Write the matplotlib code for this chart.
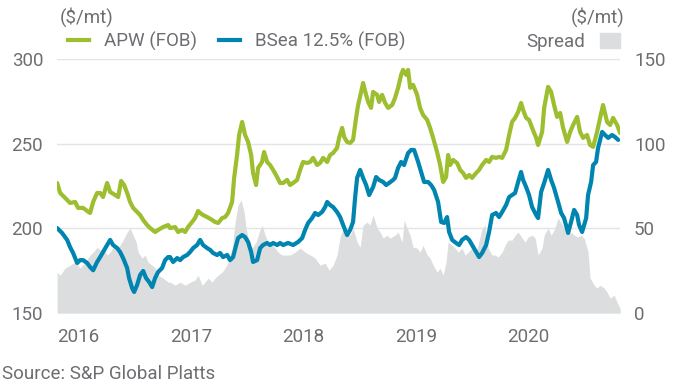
import matplotlib
matplotlib.use("Agg")
import matplotlib.pyplot as plt
from matplotlib.lines import Line2D
from matplotlib.patches import Patch

plt.rcParams["font.family"] = ["Roboto", "DejaVu Sans"]

# APW (FOB), $/mt
apw_t = [2016.000, 2016.027, 2016.071, 2016.115, 2016.160, 2016.186, 2016.231, 2016.266, 2016.293, 2016.320,
         2016.355, 2016.382, 2016.408, 2016.444, 2016.471, 2016.515, 2016.542, 2016.568, 2016.595, 2016.622,
         2016.648, 2016.675, 2016.710, 2016.737, 2016.764, 2016.799, 2016.826, 2016.870, 2016.897, 2016.941,
         2016.986, 2017.003, 2017.048, 2017.074, 2017.110, 2017.137, 2017.163, 2017.199, 2017.225, 2017.252,
         2017.270, 2017.296, 2017.332, 2017.376, 2017.403, 2017.430, 2017.465, 2017.492, 2017.518, 2017.554,
         2017.572, 2017.598, 2017.616, 2017.643, 2017.669, 2017.696, 2017.723, 2017.740, 2017.767, 2017.785,
         2017.820, 2017.838, 2017.865, 2017.891, 2017.918, 2017.954, 2017.980, 2018.007, 2018.042, 2018.069,
         2018.096, 2018.131, 2018.158, 2018.184, 2018.220, 2018.247, 2018.273, 2018.309, 2018.335, 2018.362,
         2018.398, 2018.424, 2018.451, 2018.486, 2018.504, 2018.531, 2018.549, 2018.575, 2018.602, 2018.628,
         2018.655, 2018.673, 2018.700, 2018.717, 2018.744, 2018.762, 2018.788, 2018.806, 2018.842, 2018.859,
         2018.886, 2018.913, 2018.939, 2018.975, 2019.001, 2019.028, 2019.055, 2019.072, 2019.099, 2019.117,
         2019.135, 2019.161, 2019.197, 2019.223, 2019.250, 2019.286, 2019.312, 2019.339, 2019.374, 2019.401,
         2019.428, 2019.454, 2019.472, 2019.490, 2019.516, 2019.552, 2019.579, 2019.605, 2019.632, 2019.659,
         2019.685, 2019.721, 2019.747, 2019.774, 2019.810, 2019.836, 2019.863, 2019.898, 2019.925, 2019.952,
         2019.987, 2020.014, 2020.040, 2020.067, 2020.094, 2020.120, 2020.138, 2020.165, 2020.191, 2020.218,
         2020.254, 2020.271, 2020.307, 2020.325, 2020.360, 2020.387, 2020.413, 2020.440, 2020.467, 2020.493,
         2020.529, 2020.556, 2020.582, 2020.618, 2020.644, 2020.671, 2020.706, 2020.733, 2020.760, 2020.795,
         2020.822, 2020.848, 2020.884, 2020.911, 2020.937, 2020.973, 2021.000]
apw_v = [226.8, 220.9, 218.0, 215.0, 215.6, 212.1, 212.1, 210.3, 209.1, 215.6,
         220.9, 220.9, 218.5, 226.8, 221.5, 219.7, 218.5, 228.0, 225.6, 220.9,
         215.6, 212.1, 209.7, 207.9, 205.0, 202.0, 200.2, 197.9, 199.1, 200.8,
         202.0, 200.2, 200.8, 197.9, 199.1, 197.9, 200.8, 203.8, 206.1, 210.3,
         209.1, 207.9, 206.7, 205.0, 203.8, 203.2, 206.1, 206.7, 209.1, 215.6,
         229.8, 243.3, 255.1, 262.8, 255.1, 251.0, 243.3, 232.7, 225.6, 235.7,
         239.2, 245.1, 239.2, 237.4, 234.5, 230.3, 226.8, 226.8, 228.6, 225.6,
         226.8, 228.6, 234.5, 239.2, 238.6, 239.2, 241.6, 237.4, 238.6, 241.6,
         239.2, 243.3, 244.5, 247.5, 253.4, 259.3, 253.9, 251.0, 250.4, 252.2,
         265.2, 272.8, 280.5, 285.8, 278.8, 274.6, 271.1, 280.5, 278.8, 274.6,
         278.8, 274.0, 271.1, 272.8, 277.0, 282.9, 290.6, 293.5, 290.6, 293.5,
         282.9, 284.7, 278.8, 271.1, 266.9, 264.0, 259.3, 253.4, 245.1, 237.4,
         227.4, 230.3, 243.3, 237.4, 240.4, 238.6, 234.5, 232.7, 229.8, 231.5,
         229.8, 232.7, 234.5, 237.4, 240.4, 239.2, 242.2, 241.6, 242.2, 241.6,
         246.3, 255.1, 262.8, 265.2, 268.7, 274.0, 269.9, 265.2, 264.0, 259.3,
         253.4, 249.2, 256.9, 271.1, 283.5, 280.5, 272.8, 265.8, 268.1, 259.3,
         251.0, 256.9, 261.0, 265.8, 256.9, 253.4, 255.1, 249.2, 248.1, 256.9,
         265.2, 272.8, 262.8, 261.0, 265.2, 261.0, 256.3]

# BSea 12.5% (FOB), $/mt
bsea_t = [2016.000, 2016.044, 2016.089, 2016.115, 2016.142, 2016.178, 2016.204, 2016.231, 2016.266, 2016.293,
          2016.320, 2016.355, 2016.382, 2016.408, 2016.444, 2016.471, 2016.497, 2016.533, 2016.559, 2016.586,
          2016.622, 2016.639, 2016.666, 2016.684, 2016.710, 2016.737, 2016.764, 2016.790, 2016.817, 2016.844,
          2016.870, 2016.897, 2016.932, 2016.959, 2016.986, 2017.003, 2017.030, 2017.066, 2017.092, 2017.119,
          2017.154, 2017.181, 2017.208, 2017.243, 2017.270, 2017.296, 2017.332, 2017.359, 2017.385, 2017.421,
          2017.447, 2017.474, 2017.510, 2017.536, 2017.563, 2017.590, 2017.607, 2017.643, 2017.669, 2017.696,
          2017.723, 2017.740, 2017.776, 2017.803, 2017.829, 2017.865, 2017.891, 2017.918, 2017.954, 2017.980,
          2018.007, 2018.051, 2018.096, 2018.140, 2018.176, 2018.202, 2018.229, 2018.264, 2018.291, 2018.318,
          2018.353, 2018.380, 2018.398, 2018.424, 2018.451, 2018.486, 2018.513, 2018.540, 2018.575, 2018.602,
          2018.628, 2018.646, 2018.664, 2018.691, 2018.717, 2018.744, 2018.771, 2018.806, 2018.833, 2018.859,
          2018.895, 2018.922, 2018.948, 2018.984, 2019.001, 2019.028, 2019.055, 2019.081, 2019.117, 2019.144,
          2019.170, 2019.206, 2019.232, 2019.259, 2019.294, 2019.321, 2019.348, 2019.383, 2019.410, 2019.437,
          2019.463, 2019.481, 2019.508, 2019.543, 2019.570, 2019.596, 2019.632, 2019.659, 2019.685, 2019.721,
          2019.747, 2019.774, 2019.810, 2019.836, 2019.863, 2019.898, 2019.925, 2019.952, 2019.987, 2020.014,
          2020.040, 2020.067, 2020.094, 2020.120, 2020.138, 2020.165, 2020.191, 2020.218, 2020.254, 2020.271,
          2020.298, 2020.325, 2020.360, 2020.387, 2020.413, 2020.449, 2020.476, 2020.502, 2020.538, 2020.564,
          2020.591, 2020.618, 2020.635, 2020.662, 2020.698, 2020.715, 2020.742, 2020.760, 2020.786, 2020.804,
          2020.840, 2020.866, 2020.893, 2020.928, 2020.955, 2020.982]
bsea_v = [200.2, 197.3, 193.2, 189.0, 185.5, 179.6, 181.3, 181.3, 179.6, 177.2,
          175.3, 180.2, 183.1, 186.1, 190.2, 193.2, 190.2, 188.4, 186.1, 182.5,
          176.6, 170.7, 164.8, 162.5, 166.6, 172.5, 174.9, 170.7, 168.4, 165.4,
          170.7, 174.3, 176.6, 181.3, 183.1, 183.1, 180.2, 182.5, 181.3, 183.1,
          184.3, 186.1, 188.4, 190.2, 193.2, 190.2, 188.4, 187.3, 185.5, 184.3,
          185.5, 183.1, 184.3, 181.3, 183.1, 190.2, 194.3, 196.1, 194.9, 192.0,
          186.1, 180.2, 181.3, 188.4, 190.2, 191.4, 190.2, 191.4, 190.2, 191.4,
          190.2, 191.4, 190.2, 192.0, 194.3, 199.1, 203.2, 206.1, 209.1, 207.9,
          209.7, 212.6, 215.6, 213.8, 212.6, 209.7, 206.7, 202.0, 196.1, 199.1,
          203.8, 218.0, 229.8, 234.5, 229.8, 225.6, 219.7, 224.4, 230.3, 228.6,
          227.4, 225.6, 226.8, 228.6, 229.8, 235.7, 239.2, 237.4, 244.5, 246.3,
          246.3, 239.2, 233.3, 227.4, 227.4, 225.6, 222.7, 215.6, 203.8, 203.2,
          206.7, 197.9, 193.2, 191.4, 190.2, 193.2, 194.9, 193.2, 190.2, 186.1,
          183.1, 185.5, 190.2, 197.9, 207.9, 209.1, 206.7, 209.7, 213.8, 218.5,
          219.7, 220.9, 227.4, 233.3, 228.6, 224.4, 219.7, 212.6, 207.9, 206.1,
          221.5, 226.8, 234.5, 228.6, 223.9, 215.6, 209.1, 206.1, 197.3, 203.8,
          210.9, 207.9, 202.0, 197.9, 206.1, 219.7, 227.4, 237.4, 239.2, 247.5,
          256.9, 255.1, 253.4, 255.1, 253.9, 252.2]

# Spread, $/mt (right axis)
spread_t = [2016.000, 2016.027, 2016.071, 2016.115, 2016.160, 2016.204, 2016.249, 2016.293, 2016.320, 2016.355,
            2016.382, 2016.408, 2016.444, 2016.471, 2016.497, 2016.533, 2016.559, 2016.586, 2016.622, 2016.648,
            2016.675, 2016.702, 2016.719, 2016.755, 2016.781, 2016.808, 2016.844, 2016.870, 2016.897, 2016.941,
            2016.986, 2017.003, 2017.048, 2017.092, 2017.137, 2017.181, 2017.225, 2017.252, 2017.288, 2017.314,
            2017.341, 2017.376, 2017.403, 2017.430, 2017.465, 2017.492, 2017.518, 2017.554, 2017.581, 2017.607,
            2017.634, 2017.661, 2017.678, 2017.705, 2017.732, 2017.767, 2017.794, 2017.820, 2017.847, 2017.874,
            2017.909, 2017.936, 2017.962, 2017.998, 2018.025, 2018.069, 2018.113, 2018.158, 2018.202, 2018.247,
            2018.291, 2018.335, 2018.380, 2018.415, 2018.451, 2018.486, 2018.513, 2018.540, 2018.575, 2018.602,
            2018.628, 2018.664, 2018.691, 2018.717, 2018.753, 2018.779, 2018.806, 2018.842, 2018.868, 2018.895,
            2018.930, 2018.957, 2019.001, 2019.028, 2019.064, 2019.081, 2019.108, 2019.135, 2019.161, 2019.197,
            2019.223, 2019.250, 2019.286, 2019.312, 2019.339, 2019.374, 2019.401, 2019.428, 2019.454, 2019.472,
            2019.508, 2019.534, 2019.561, 2019.596, 2019.623, 2019.650, 2019.685, 2019.712, 2019.738, 2019.774,
            2019.801, 2019.827, 2019.863, 2019.889, 2019.916, 2019.952, 2019.978, 2020.005, 2020.040, 2020.067,
            2020.094, 2020.129, 2020.156, 2020.183, 2020.218, 2020.245, 2020.271, 2020.307, 2020.325, 2020.360,
            2020.387, 2020.413, 2020.449, 2020.476, 2020.502, 2020.538, 2020.564, 2020.591, 2020.626, 2020.653,
            2020.680, 2020.715, 2020.733, 2020.769, 2020.795, 2020.822, 2020.857, 2020.884, 2020.911, 2020.946,
            2020.973, 2021.000]
spread_v = [24.2, 22.4, 26.6, 28.3, 30.1, 26.6, 30.1, 34.3, 36.0, 38.9,
            37.2, 38.4, 34.3, 36.0, 38.9, 38.4, 40.1, 43.1, 47.8, 50.2,
            46.0, 41.9, 36.0, 32.5, 34.3, 30.1, 28.3, 26.6, 22.4, 20.7,
            18.3, 18.3, 16.5, 18.3, 16.5, 18.3, 19.5, 22.4, 16.5, 18.3,
            20.7, 18.3, 20.7, 22.4, 24.2, 26.6, 30.1, 38.4, 53.7, 63.8,
            66.7, 59.6, 50.2, 41.9, 38.4, 41.9, 47.8, 51.9, 46.0, 41.9,
            40.1, 38.4, 36.0, 34.3, 34.3, 34.3, 36.0, 38.4, 36.0, 34.3,
            32.5, 28.3, 29.5, 25.4, 28.3, 34.3, 44.9, 50.2, 47.8, 46.0,
            50.2, 41.9, 38.9, 51.9, 53.7, 51.9, 57.9, 50.2, 47.8, 44.3,
            46.0, 44.3, 46.0, 47.8, 41.9, 54.9, 50.2, 46.0, 38.9, 38.4,
            36.0, 40.1, 34.3, 32.5, 28.3, 24.2, 26.6, 22.4, 30.1, 41.9,
            40.1, 38.4, 36.0, 38.4, 34.3, 36.0, 38.4, 34.3, 40.1, 50.2,
            51.9, 38.4, 34.3, 34.3, 33.1, 36.0, 40.1, 43.1, 43.1, 46.0,
            47.8, 44.3, 41.9, 44.9, 46.0, 44.3, 34.3, 38.4, 46.0, 50.2,
            46.0, 49.0, 56.1, 53.1, 50.2, 46.0, 47.8, 46.0, 44.9, 46.0,
            44.3, 36.0, 20.7, 16.5, 14.8, 16.5, 14.8, 12.4, 8.9, 10.6,
            6.5, 2.9]

years = [2016, 2017, 2018, 2019, 2020]

GREEN = "#9dbe2f"
BLUE = "#0084b0"
GREY_FILL = "#dcddde"
TXT = "#6d6e71"
FS = 13.5

fig = plt.figure(figsize=(6.8, 3.9), dpi=100)
ax = fig.add_axes([0.084, 0.197, 0.828, 0.652])
ax2 = ax.twinx()

# spread on the secondary axis, drawn underneath the price lines
ax2.fill_between(spread_t, spread_v, 0, color=GREY_FILL, lw=0)
ax2.set_ylim(0, 150)
ax.set_zorder(ax2.get_zorder() + 1)
ax.patch.set_visible(False)

ax.plot(apw_t, apw_v, color=GREEN, lw=3.0, solid_capstyle="round")
ax.plot(bsea_t, bsea_v, color=BLUE, lw=3.0, solid_capstyle="round")
ax.set_ylim(150, 300)
ax.set_xlim(2016, 2021.0)

for y in [50, 100, 150]:
    ax2.axhline(y, color="#e3e4e5", lw=1.0, zorder=0)

ax.set_yticks([150, 200, 250, 300])
ax2.set_yticks([0, 50, 100, 150])
ax.set_xticks(years)
ax.set_xticklabels([str(y) for y in years], ha="left")
for a in (ax, ax2):
    for s in a.spines.values():
        s.set_visible(False)
    a.tick_params(length=0, colors=TXT, labelsize=FS)
ax.tick_params(axis="x", pad=11)
ax.tick_params(axis="y", pad=10)
ax2.tick_params(axis="y", pad=10)

fig.text(0.088, 0.955, "($/mt)", color=TXT, fontsize=FS, va="center")
fig.text(0.918, 0.955, "($/mt)", color=TXT, fontsize=FS, va="center", ha="right")
fig.text(0.003, 0.04, "Source: S&P Global Platts", color=TXT, fontsize=FS, va="center")

handles = [Line2D([], [], color=GREEN, lw=3), Line2D([], [], color=BLUE, lw=3)]
fig.legend(handles, ["APW (FOB)", "BSea 12.5% (FOB)"], loc="center left",
           bbox_to_anchor=(0.075, 0.893), ncol=2, frameon=False, fontsize=FS,
           labelcolor=TXT, handlelength=1.1, handletextpad=0.8, columnspacing=1.2)
fig.legend([Patch(color=GREY_FILL)], ["Spread"], loc="center right",
           bbox_to_anchor=(0.937, 0.893), frameon=False, fontsize=FS,
           labelcolor=TXT, markerfirst=False, handlelength=1.1, handleheight=0.9,
           handletextpad=0.8)

fig.savefig("out.png", dpi=100)
